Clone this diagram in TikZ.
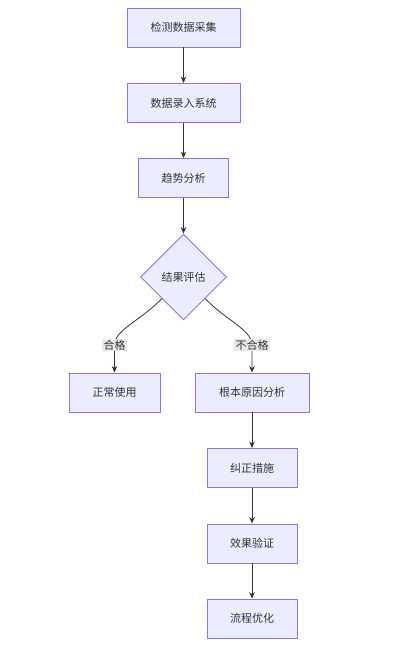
\documentclass[tikz,border=0pt]{standalone}
\usepackage{fontspec}
\setmainfont{Noto Sans CJK SC}
\usetikzlibrary{shapes.geometric,arrows.meta}
\definecolor{boxfill}{HTML}{ECECFF}
\definecolor{boxline}{HTML}{9370DB}
\definecolor{arrcol}{HTML}{333333}
\definecolor{lblbg}{HTML}{E8E8E8}
\begin{document}
\begin{tikzpicture}[x=1pt,y=-1pt,
  font=\fontsize{11}{13}\selectfont,
  proc/.style={draw=boxline,fill=boxfill,line width=0.9pt,minimum height=39pt,inner sep=0pt,text=arrcol},
  dec/.style={diamond,draw=boxline,fill=boxfill,line width=0.9pt,minimum size=86pt,inner sep=0pt,aspect=1,text=arrcol},
  arr/.style={draw=arrcol,line width=0.8pt,-{Stealth[length=6.5pt,width=5.5pt]}},
  lbl/.style={fill=lblbg,inner sep=1.2pt,text=arrcol}]
\useasboundingbox (0,0) rectangle (411,654);
\node[proc,minimum width=113pt] (a) at (183.5,27.5) {检测数据采集};
\node[proc,minimum width=113pt] (b) at (183.5,103) {数据录入系统};
\node[proc,minimum width=90pt] (c) at (183.5,178) {趋势分析};
\node[dec] (d) at (183.5,277) {结果评估};
\node[proc,minimum width=91pt] (e) at (114.5,392.5) {正常使用};
\node[proc,minimum width=114pt] (f) at (252,392.5) {根本原因分析};
\node[proc,minimum width=90pt] (g) at (252,468) {纠正措施};
\node[proc,minimum width=90pt] (h) at (252,543.5) {效果验证};
\node[proc,minimum width=90pt] (i) at (252,618.5) {流程优化};
\coordinate (l1) at (114.5,345);
\coordinate (l2) at (252,345);
\draw[arr] (a) -- (b);
\draw[arr] (b) -- (c);
\draw[arr] (c) -- (d);
\draw[arr] (d.south west) .. controls (140,321) and (114.5,330) .. (l1) -- (e.north);
\draw[arr] (d.south east) .. controls (227,321) and (252,330) .. (l2) -- (f.north);
\node[lbl] at (l1) {合格};
\node[lbl] at (l2) {不合格};
\draw[arr] (f) -- (g);
\draw[arr] (g) -- (h);
\draw[arr] (h) -- (i);
\end{tikzpicture}
\end{document}
